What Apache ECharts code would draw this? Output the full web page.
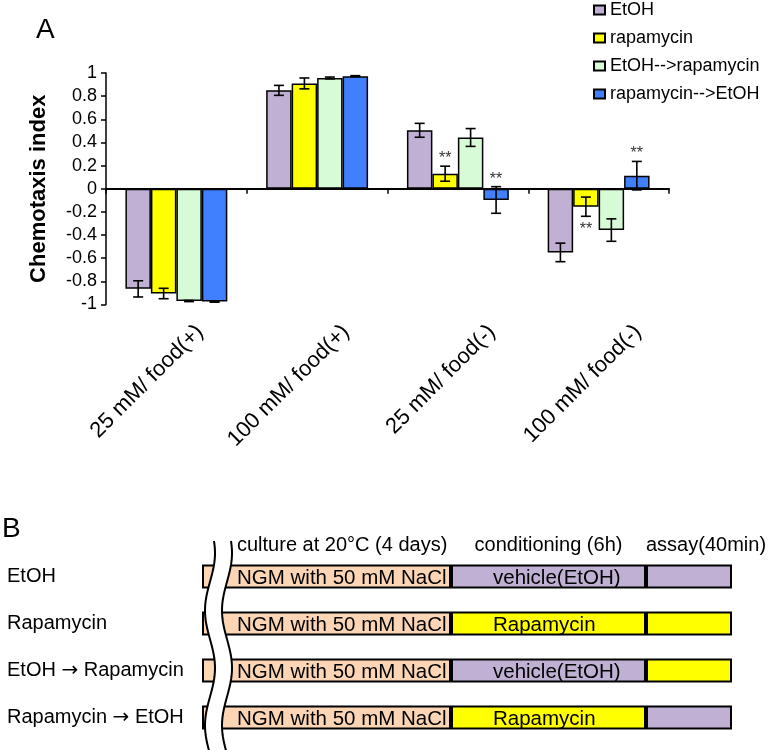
<!DOCTYPE html>
<html>
<head>
<meta charset="utf-8">
<script src="https://cdn.jsdelivr.net/npm/echarts@6/dist/echarts.min.js"></script>
<style>html,body{margin:0;padding:0;background:#fff;}#c{width:771px;height:750px;}</style>
</head>
<body>
<div id="c"></div>
<script>
// ---------- Panel A data ----------
const categories = ['25 mM/ food(+)', '100 mM/ food(+)', '25 mM/ food(-)', '100 mM/ food(-)'];
const seriesNames = ['EtOH', 'rapamycin', 'EtOH-->rapamycin', 'rapamycin-->EtOH'];
const etohVals      = [-0.865, 0.850, 0.505, -0.550];
const etohErr       = [0.070, 0.043, 0.060, 0.080];
const rapaVals      = [-0.905, 0.910, 0.130, -0.155];
const rapaErr       = [0.045, 0.047, 0.065, 0.083];
const etohRapaVals  = [-0.970, 0.957, 0.443, -0.357];
const etohRapaErr   = [0.005, 0.008, 0.077, 0.097];
const rapaEtohVals  = [-0.975, 0.973, -0.097, 0.113];
const rapaEtohErr   = [0.005, 0.004, 0.115, 0.123];
// significance marks: 1 = "**" above the error bar, -1 = below, 0 = none
const etohSig     = [0, 0, 0, 0];
const rapaSig     = [0, 0, 1, -1];
const etohRapaSig = [0, 0, 0, 0];
const rapaEtohSig = [0, 0, 1, 1];
const yTicks = { min: -1, max: 1, interval: 0.2 };

// ---------- Panel B data ----------
const rowLabels = ['EtOH', 'Rapamycin', 'EtOH \u2192 Rapamycin', 'Rapamycin \u2192 EtOH'];
const cultureLen = [249, 249, 249, 249];
const condLen    = [195, 195, 195, 195];
const assayLen   = [86, 86, 86, 86];
const cultureText = 'NGM with 50 mM NaCl';
const condLabels = ['vehicle(EtOH)', 'Rapamycin', 'vehicle(EtOH)', 'Rapamycin'];
const condTreat  = ['EtOH', 'rapamycin', 'EtOH', 'rapamycin'];
const assayTreat = ['EtOH', 'rapamycin', 'rapamycin', 'EtOH'];
const headers = ['culture at 20\u00B0C (4 days)', 'conditioning (6h)', 'assay(40min)'];

// ---------- styles ----------
const FONT = '"Liberation Sans", Arial, Helvetica, sans-serif';
const colors = ['#BFB0D4', '#FFFF00', '#D6FBD6', '#4080FF'];
const treatColor = { EtOH: '#BFB0D4', rapamycin: '#FFFF00' };
const cultureColor = '#FCD5B5';
const CAT_GAP = 0.276;

const vals = [etohVals, rapaVals, etohRapaVals, rapaEtohVals];
const errs = [etohErr, rapaErr, etohRapaErr, rapaEtohErr];
const sigs = [etohSig, rapaSig, etohRapaSig, rapaEtohSig];

const errData = [];
for (let s = 0; s < 4; s++) {
  for (let c = 0; c < categories.length; c++) {
    errData.push([c, vals[s][c], errs[s][c], s, sigs[s][c]]);
  }
}

function renderErr(params, api) {
  const c = api.value(0), v = api.value(1), e = api.value(2), s = api.value(3), sig = api.value(4);
  const band = api.size([1, 0])[0];
  const barW = band * (1 - CAT_GAP) / 4;
  const cx = api.coord([c, 0])[0] + (s - 1.5) * barW;
  const yt = api.coord([c, v + e])[1];
  const yb = api.coord([c, v - e])[1];
  const hw = 5;
  const st = { stroke: '#000', lineWidth: 1.6 };
  const ch = [
    { type: 'line', shape: { x1: cx, y1: yt, x2: cx, y2: yb }, style: st },
    { type: 'line', shape: { x1: cx - hw, y1: yt, x2: cx + hw, y2: yt }, style: st },
    { type: 'line', shape: { x1: cx - hw, y1: yb, x2: cx + hw, y2: yb }, style: st }
  ];
  if (sig !== 0) {
    ch.push({
      type: 'text',
      style: {
        text: '**', x: cx, y: sig > 0 ? yt - 7.5 : yb + 13.5,
        align: 'center', verticalAlign: 'middle',
        font: '16px ' + FONT, fill: '#333'
      }
    });
  }
  return { type: 'group', children: ch };
}

const barSeries = seriesNames.map((n, i) => ({
  name: n, type: 'bar', xAxisIndex: 0, yAxisIndex: 0,
  data: vals[i], barGap: '0%', barCategoryGap: (CAT_GAP * 100) + '%',
  itemStyle: { color: colors[i], borderColor: '#000', borderWidth: 1.5 },
  z: 2
}));

function rowLabelFmt(v) {
  const parts = v.split(' \u2192 ');
  if (parts.length === 1) return '{t|' + v + '}';
  return '{t|' + parts[0] + ' }{a|\u2192}{t| ' + parts[1] + '}';
}

const chart = echarts.init(document.getElementById('c'), null, { renderer: 'canvas' });

const option = {
  animation: false,
  backgroundColor: '#fff',
  textStyle: { fontFamily: FONT, color: '#000' },
  legend: {
    data: seriesNames, orient: 'vertical', left: 593, top: 1, padding: 0,
    icon: 'rect', itemWidth: 11, itemHeight: 9, itemGap: 10,
    textStyle: { fontSize: 18, color: '#000', fontFamily: FONT, lineHeight: 18 },
    selectedMode: false
  },
  grid: [
    { left: 106, right: 102, top: 73, bottom: 445.5 },
    { left: 127, right: 60, top: 73, bottom: 445.5 },
    { left: 202, right: 39, top: 553, height: 188 }
  ],
  xAxis: [
    {
      type: 'category', gridIndex: 0, data: categories,
      axisLine: { onZero: true, lineStyle: { color: '#000', width: 2 } },
      axisTick: { show: true, length: 5, lineStyle: { color: '#000', width: 1.5 } },
      axisLabel: { show: false }, splitLine: { show: false }
    },
    {
      type: 'category', gridIndex: 1, data: categories, position: 'bottom',
      axisLine: { show: false }, axisTick: { show: false },
      axisLabel: { rotate: 45, interval: 0, margin: 24, fontSize: 22, color: '#000', fontFamily: FONT }
    },
    { type: 'value', gridIndex: 2, min: 0, max: 530, show: false }
  ],
  yAxis: [
    {
      type: 'value', gridIndex: 0, min: yTicks.min, max: yTicks.max, interval: yTicks.interval,
      name: 'Chemotaxis index', nameLocation: 'middle', nameGap: 56,
      nameTextStyle: { fontSize: 22, fontWeight: 'bold', color: '#000', fontFamily: FONT },
      axisLine: { show: true, lineStyle: { color: '#000', width: 1.5 } },
      axisTick: { show: true, length: 5, lineStyle: { color: '#000', width: 1.5 } },
      axisLabel: { fontSize: 18, color: '#000', margin: 9, fontFamily: FONT },
      splitLine: { show: false }
    },
    { type: 'value', gridIndex: 1, min: -1, max: 1, show: false },
    {
      type: 'category', gridIndex: 2, data: rowLabels, inverse: true,
      axisLine: { show: false }, axisTick: { show: false },
      axisLabel: {
        align: 'left', margin: 195, color: '#000', formatter: rowLabelFmt,
        rich: {
          t: { fontSize: 20, color: '#000', fontFamily: FONT },
          a: { fontSize: 20, color: '#000', fontFamily: '"DejaVu Sans", sans-serif' }
        }
      }
    }
  ],
  series: [
    ...barSeries,
    {
      type: 'custom', name: 'err', xAxisIndex: 0, yAxisIndex: 0,
      renderItem: renderErr, data: errData, z: 5, encode: { x: 0, y: 1 }
    },
    {
      type: 'bar', name: 'culture', stack: 'tl', xAxisIndex: 2, yAxisIndex: 2, barWidth: 24,
      data: cultureLen.map(v => ({ value: v })),
      itemStyle: { color: cultureColor, borderColor: '#000', borderWidth: 2 },
      label: { show: true, position: 'insideLeft', distance: 35, formatter: cultureText,
               fontSize: 20.5, color: '#000', fontFamily: FONT, offset: [0, 2] }
    },
    {
      type: 'bar', name: 'conditioning', stack: 'tl', xAxisIndex: 2, yAxisIndex: 2, barWidth: 24,
      data: condLen.map((v, i) => ({ value: v, itemStyle: { color: treatColor[condTreat[i]] } })),
      itemStyle: { borderColor: '#000', borderWidth: 2 },
      label: { show: true, position: 'insideLeft', distance: 42,
               formatter: p => condLabels[p.dataIndex],
               fontSize: 20.5, color: '#000', fontFamily: FONT, offset: [0, 2] }
    },
    {
      type: 'bar', name: 'assay', stack: 'tl', xAxisIndex: 2, yAxisIndex: 2, barWidth: 24,
      data: assayLen.map((v, i) => ({ value: v, itemStyle: { color: treatColor[assayTreat[i]] } })),
      itemStyle: { borderColor: '#000', borderWidth: 2 }
    }
  ]
};
chart.setOption(option);

// ---------- annotations positioned from the axes ----------
const px = v => chart.convertToPixel({ xAxisIndex: 2 }, v);
const rowY0 = chart.convertToPixel({ yAxisIndex: 2 }, rowLabels[0]);
const x0 = px(0);
const xCondStart = px(cultureLen[0]);
const xAssayStart = px(cultureLen[0] + condLen[0]);
const headY = rowY0 - 31;

// wavy break
const leftPts = [], rightPts = [];
for (let y = 541; y <= 752; y += 2) {
  const dx = 5 * Math.cos(2 * Math.PI * (y - 553) / 115);
  leftPts.push([x0 + 8 + dx, y]);
  rightPts.push([x0 + 25 + dx, y]);
}
const poly = leftPts.concat(rightPts.slice().reverse());

chart.setOption({
  graphic: [
    { type: 'text', left: 36, top: 16, z: 100,
      style: { text: 'A', font: '28px ' + FONT, fill: '#000' } },
    { type: 'text', left: 2, top: 515, z: 100,
      style: { text: 'B', font: '28px ' + FONT, fill: '#000' } },
    { type: 'polygon', z: 100, shape: { points: poly }, style: { fill: '#fff', stroke: null } },
    { type: 'polyline', z: 101, shape: { points: leftPts }, style: { stroke: '#000', lineWidth: 2, fill: null } },
    { type: 'polyline', z: 101, shape: { points: rightPts }, style: { stroke: '#000', lineWidth: 2, fill: null } },
    { type: 'text', z: 100, x: x0 + 35, y: headY,
      style: { text: headers[0], font: '20px ' + FONT, fill: '#000', align: 'left', verticalAlign: 'middle' } },
    { type: 'text', z: 100, x: (xCondStart + xAssayStart) / 2, y: headY,
      style: { text: headers[1], font: '20px ' + FONT, fill: '#000', align: 'center', verticalAlign: 'middle' } },
    { type: 'text', z: 100, x: xAssayStart, y: headY,
      style: { text: headers[2], font: '20px ' + FONT, fill: '#000', align: 'left', verticalAlign: 'middle' } }
  ]
});
</script>
</body>
</html>
